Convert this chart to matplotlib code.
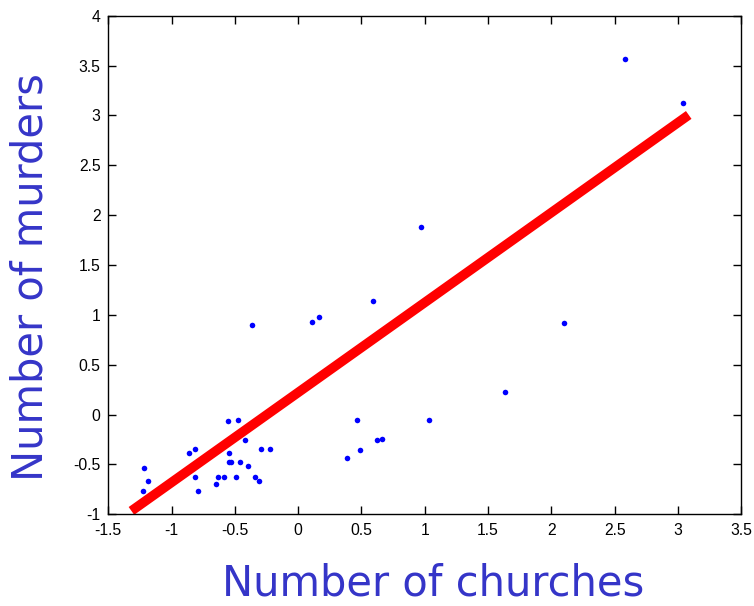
import numpy as np
import matplotlib
matplotlib.use("Agg")
import matplotlib.pyplot as plt

# standardized counts per town
churches = [
    -0.363, -1.216, -1.190, -1.227, -0.861, -0.811, -0.811, -0.790,
    -0.551, -0.479, -0.422, -0.548, -0.548, -0.527, -0.456, -0.398,
    -0.295, -0.224, -0.630, -0.582, -0.651, -0.490, -0.343, -0.306,
    0.974, 0.595, 0.107, 0.168, 1.630, 0.466, 1.032, 0.626, 0.664,
    0.490, 0.384, 2.103, 2.585, 3.038,
]
murders = [
    0.898, -0.533, -0.666, -0.766, -0.388, -0.345, -0.623, -0.766,
    -0.064, -0.051, -0.255, -0.388, -0.478, -0.478, -0.478, -0.519,
    -0.345, -0.345, -0.623, -0.623, -0.696, -0.623, -0.623, -0.666,
    1.880, 1.136, 0.929, 0.976, 0.227, -0.051, -0.051, -0.258, -0.242,
    -0.358, -0.438, 0.916, 3.564, 3.125,
]

# regression line
fit_slope = 0.902
fit_intercept = 0.222
fit_range = [-1.317, 3.085]

xticks = [-1.5, -1, -0.5, 0, 0.5, 1, 1.5, 2, 2.5, 3, 3.5]
xtick_labels = ["-1.5", "-1", "-0.5", "0", "0.5", "1", "1.5", "2", "2.5", "3", "3.5"]
yticks = [-1, -0.5, 0, 0.5, 1, 1.5, 2, 2.5, 3, 3.5, 4]
ytick_labels = ["-1", "-0.5", "0", "0.5", "1", "1.5", "2", "2.5", "3", "3.5", "4"]

label_color = "#3535c8"

fig = plt.figure(figsize=(7.54, 6.06), dpi=100)
ax = fig.add_axes([0.1436, 0.1513, 0.8395, 0.8228])

ax.plot(churches, murders, linestyle="none", marker="o", markersize=4.0,
        markerfacecolor="#0000ff", markeredgewidth=0, zorder=3)

fx = np.array(fit_range)
ax.plot(fx, fit_slope * fx + fit_intercept, color="#ff0000", linewidth=6.9,
        solid_capstyle="butt", zorder=2)

ax.set_xlim(-1.5, 3.5)
ax.set_ylim(-1, 4)
ax.set_xticks(xticks)
ax.set_xticklabels(xtick_labels)
ax.set_yticks(yticks)
ax.set_yticklabels(ytick_labels)

ax.tick_params(direction="in", length=5.5, width=1.0, top=True, right=True,
               labelsize=11.3, colors="black")
ax.tick_params(axis="x", pad=6.5)
ax.tick_params(axis="y", pad=5.5)
for lbl in ax.get_xticklabels() + ax.get_yticklabels():
    lbl.set_fontfamily("Liberation Sans")
for sp in ax.spines.values():
    sp.set_linewidth(1.0)

ax.set_xlabel("Number of churches", fontsize=30, color=label_color,
              ha="center", va="baseline")
ax.xaxis.set_label_coords(433.5 / 754, (606 - 596) / 606, transform=fig.transFigure)
ax.set_ylabel("Number of murders", fontsize=30, color=label_color,
              ha="center", va="baseline", rotation=90, rotation_mode="anchor")
ax.yaxis.set_label_coords(43 / 754, (606 - 277) / 606, transform=fig.transFigure)

fig.savefig("out.png", dpi=100)
